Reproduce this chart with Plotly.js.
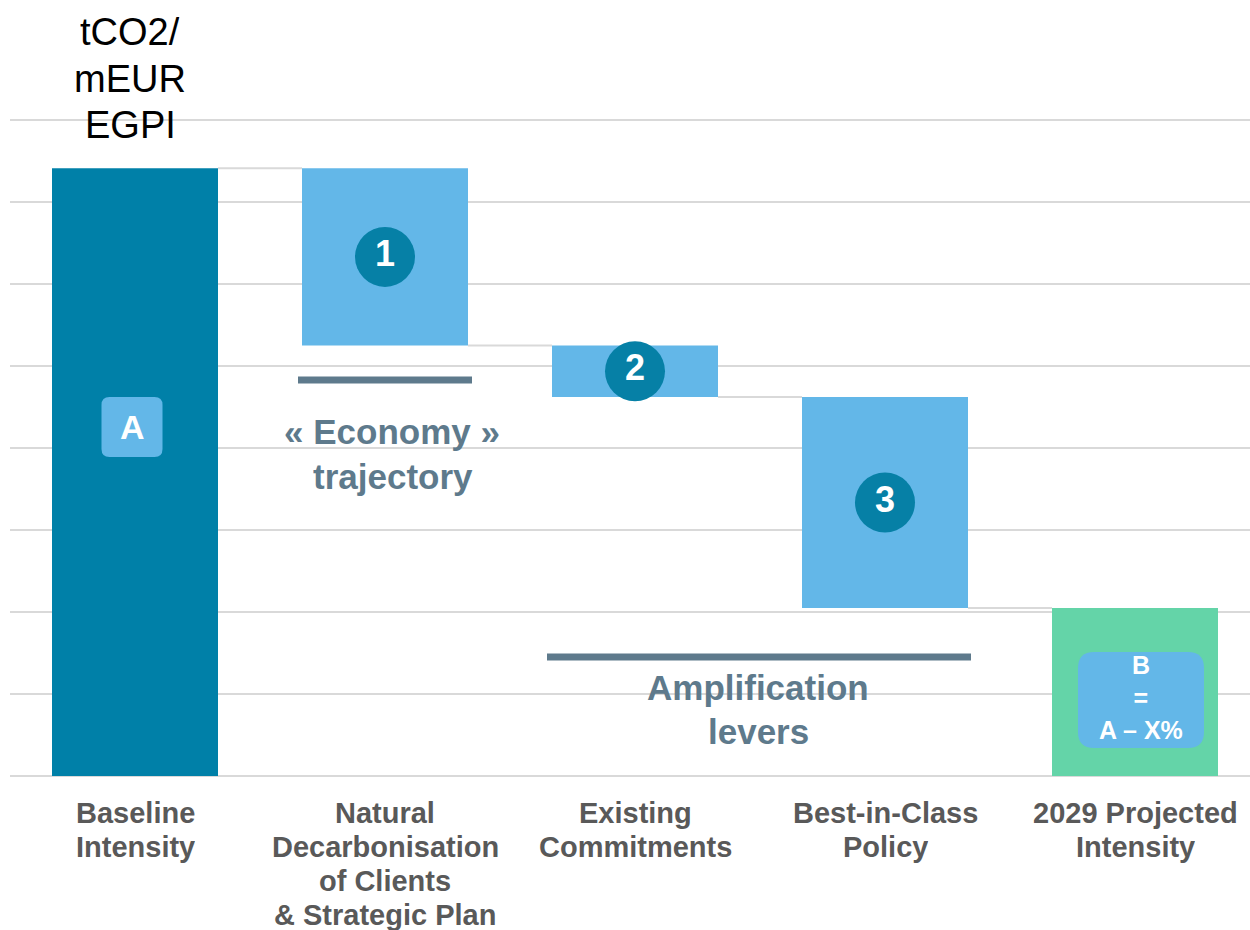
<!DOCTYPE html>
<html>
<head>
<meta charset="utf-8">
<script src="https://cdn.plot.ly/plotly-3.0.1.min.js"></script>
<style>html,body{margin:0;padding:0;background:#fff}#chart{width:1250px;height:930px}</style>
</head>
<body>
<div id="chart"></div>
<script>
// ---- data (in grid units) ----
var categories = [
  ["Baseline", "Intensity"],
  ["Natural", "Decarbonisation", "of Clients", "& Strategic Plan"],
  ["Existing", "Commitments"],
  ["Best-in-Class", "Policy"],
  ["2029 Projected", "Intensity"]
];
var baselineValue = 7.41;
var reductions = [2.16, 0.63, 2.57];
var stepLabels = ["1", "2", "3"];
var yTitleLines = ["tCO2/", "mEUR", "EGPI"];

// ---- derived bar geometry ----
var xs = [0, 1, 2, 3, 4];
var bases = [0], heights = [baselineValue], level = baselineValue;
reductions.forEach(function (r) { level -= r; bases.push(level); heights.push(r); });
bases.push(0); heights.push(level);
var colors = ["#0080A8", "#63B7E8", "#63B7E8", "#63B7E8", "#64D4A8"];
var barW = 0.664;

var traces = [];
traces.push({
  type: "bar", x: xs, y: heights, base: bases, width: barW,
  marker: { color: colors, line: { width: 0 } },
  hoverinfo: "skip", showlegend: false
});
// connectors between consecutive bars
var levels = [baselineValue];
var l2 = baselineValue;
reductions.forEach(function (r) { l2 -= r; levels.push(l2); });
for (var i = 0; i < 4; i++) {
  traces.push({
    type: "scatter", mode: "lines",
    x: [xs[i] + barW / 2, xs[i + 1] - barW / 2],
    y: [levels[i], levels[i]],
    line: { color: "#d9d9d9", width: 2 },
    hoverinfo: "skip", showlegend: false
  });
}
// numbered circles at the middle of each reduction bar
traces.push({
  type: "scatter", mode: "markers+text",
  x: [1, 2, 3],
  y: [1, 2, 3].map(function (k) { return bases[k] + heights[k] / 2; }),
  text: stepLabels.map(function (s) { return "<b>" + s + "</b>"; }),
  textposition: "middle center",
  textfont: { color: "#ffffff", size: 36, family: "Liberation Sans, Arial, sans-serif" },
  marker: { size: 60, color: "#0680A6", line: { width: 0 } },
  hoverinfo: "skip", showlegend: false
});

function rr(w, h, r) {
  var a = w / 2, b = h / 2;
  return "M" + (-a + r) + "," + (-b) + " L" + (a - r) + "," + (-b) +
    " Q" + a + "," + (-b) + " " + a + "," + (-b + r) +
    " L" + a + "," + (b - r) + " Q" + a + "," + b + " " + (a - r) + "," + b +
    " L" + (-a + r) + "," + b + " Q" + (-a) + "," + b + " " + (-a) + "," + (b - r) +
    " L" + (-a) + "," + (-b + r) + " Q" + (-a) + "," + (-b) + " " + (-a + r) + "," + (-b) + " Z";
}

var slate = "#5E7A8C";
var fam = "Liberation Sans, Arial, sans-serif";

var annotations = [];
// category labels under the axis, one line each
categories.forEach(function (lines, ci) {
  lines.forEach(function (t, li) {
    annotations.push({
      xref: "x", yref: "paper", x: xs[ci], y: 0, yanchor: "middle",
      yshift: -37 - 34 * li, height: 34,
      text: "<b>" + t + "</b>", showarrow: false,
      font: { size: 29, color: "#595959", family: fam }
    });
  });
});
// y title, one line each
yTitleLines.forEach(function (t, li) {
  annotations.push({
    xref: "x", yref: "paper", x: -0.02, y: 1, yanchor: "middle",
    yshift: 83 - 46.5 * li, height: 46,
    text: t, showarrow: false,
    font: { size: 38, color: "#000000", family: fam }
  });
});
function txt(x, y, ys, t, size, color, h) {
  annotations.push({ xref: "x", yref: "y", x: x, y: y, yshift: ys, height: h,
    text: t, showarrow: false, yanchor: "middle",
    font: { size: size, color: color, family: fam } });
}
txt(-0.012, 4.256, 0, "<b>A</b>", 34, "#ffffff");
txt(4.024, 0.927, 2, "<b>B</b><br><b>=</b><br><b>A – X%</b>", 25, "#ffffff");
txt(1.028, 4.208, 0, "<b>« Economy »</b>", 35, slate, 44);
txt(1.032, 3.659, 0, "<b>trajectory</b>", 35, slate, 44);
txt(2.492, 1.085, 0, "<b>Amplification</b>", 35, slate, 44);
txt(2.492, 0.549, 0, "<b>levers</b>", 35, slate, 44);

var layout = {
  width: 1250, height: 930,
  margin: { l: 10, r: 0, t: 115, b: 154 },
  paper_bgcolor: "#ffffff", plot_bgcolor: "#ffffff",
  font: { family: fam },
  xaxis: {
    range: [-0.5, 4.46], tickvals: xs, showticklabels: false,
    showgrid: false, zeroline: false, showline: false, ticks: "",
    fixedrange: true
  },
  yaxis: {
    range: [0, 8.06], tickvals: [0, 1, 2, 3, 4, 5, 6, 7, 8], showticklabels: false,
    showgrid: true, gridcolor: "#d9d9d9", gridwidth: 2,
    zeroline: true, zerolinecolor: "#d9d9d9", zerolinewidth: 2,
    showline: false, fixedrange: true
  },
  shapes: [
    { type: "line", xref: "x", yref: "y", x0: 1 - 0.348, x1: 1 + 0.348, y0: 4.83, y1: 4.83,
      line: { color: slate, width: 7 } },
    { type: "line", xref: "x", yref: "y", x0: 2 - 0.352, x1: 3 + 0.344, y0: 1.45, y1: 1.45,
      line: { color: slate, width: 7 } },
    { type: "path", xref: "x", yref: "y", xsizemode: "pixel", ysizemode: "pixel",
      xanchor: -0.012, yanchor: 4.256, path: rr(61, 60, 8),
      fillcolor: "#63B7E8", line: { width: 0 }, layer: "above" },
    { type: "path", xref: "x", yref: "y", xsizemode: "pixel", ysizemode: "pixel",
      xanchor: 4.024, yanchor: 0.927, path: rr(126, 96, 16),
      fillcolor: "#63B7E8", line: { width: 0 }, layer: "above" }
  ],
  annotations: annotations
};

Plotly.newPlot("chart", traces, layout, { displayModeBar: false, staticPlot: true });
</script>
</body>
</html>
